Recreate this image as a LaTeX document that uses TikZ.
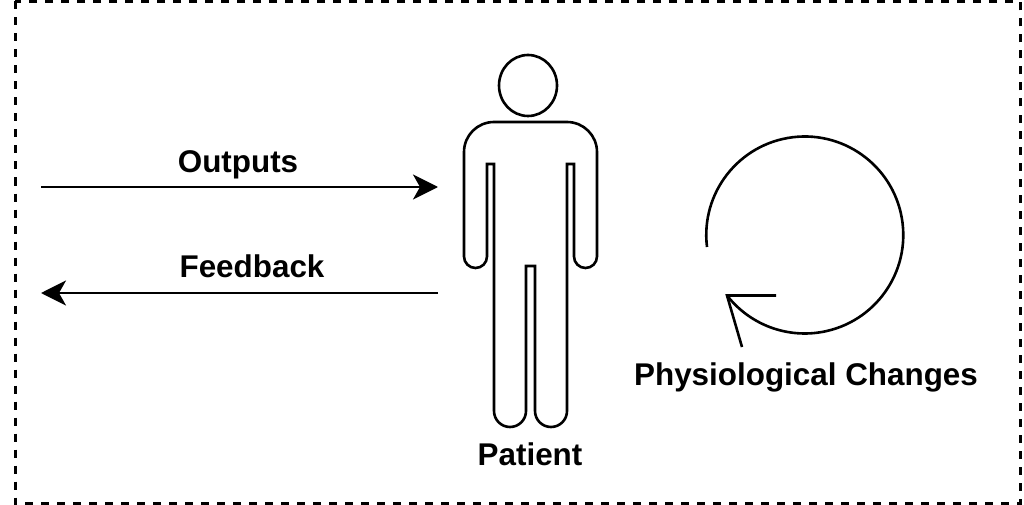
\documentclass[tikz,border=0pt]{standalone}
\usepackage{fontspec}
\setmainfont{Liberation Sans}
\usetikzlibrary{arrows.meta,shapes.geometric}
\tikzset{
  lbl/.style={inner sep=0pt,font=\fontsize{31.4}{36}\selectfont\bfseries,anchor=base},
  ink/.style={draw=black,line width=2.6pt},
  flow/.style={ink,-{Stealth[length=25pt,width=25pt,inset=7pt]}}
}
\begin{document}
\begin{tikzpicture}[x=1pt,y=-1pt]
\useasboundingbox (0,0) rectangle (1024,505);
\draw[line width=3pt,dash pattern=on 8pt off 8pt] (15,1.5) rectangle (1020,503.5);
% figure
\node[ink,ellipse,minimum width=58pt,minimum height=61pt,inner sep=0pt] (head) at (528,85.5) {};
\draw[ink,line join=miter] (494,164) -- (494,411) arc[start angle=180,end angle=0,x radius=16,y radius=16]
 -- (526,266) -- (535,266) -- (535,411) arc[start angle=180,end angle=0,x radius=16,y radius=16]
 -- (567,164) -- (574,164) -- (574,256.5) arc[start angle=180,end angle=0,x radius=11.5,y radius=11.5]
 -- (597,152) arc[start angle=0,end angle=-90,x radius=30,y radius=30]
 -- (494,122) arc[start angle=-90,end angle=-180,x radius=30,y radius=30]
 -- (464,256.5) arc[start angle=180,end angle=0,x radius=11.5,y radius=11.5]
 -- (487,164) -- cycle;
% labels
\node[lbl] (outputs) at (238,172.7) {Outputs};
\node[lbl] (feedback) at (252,277.7) {Feedback};
\node[lbl] (patient) at (530,465.7) {Patient};
\node[lbl] (phys) at (806,385.7) {Physiological Changes};
% arrows
\coordinate (o1) at (41,187); \coordinate (o2) at (438,187);
\coordinate (f1) at (438,293); \coordinate (f2) at (41,293);
\draw[flow] (o1) -- (o2);
\draw[flow] (f1) -- (f2);
% cycle
\coordinate (cs) at (707,247);
\coordinate (tip) at (727,295.5);
\coordinate (b1) at (776,295.5);
\coordinate (b2) at (742,347);
\draw[ink] (cs) arc[start angle=173,end angle=502,x radius=98.5,y radius=98.5];
\draw[ink,line join=miter] (b1) -- (tip) -- (b2);
\end{tikzpicture}
\end{document}
